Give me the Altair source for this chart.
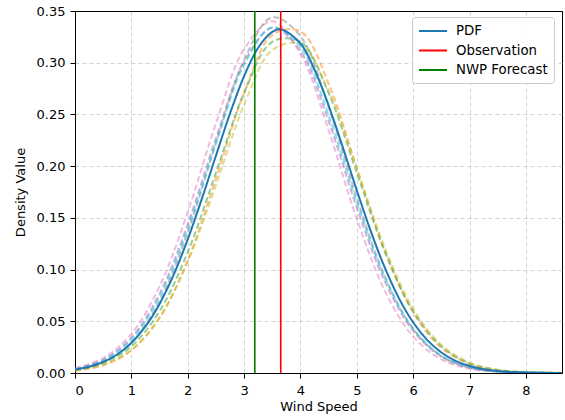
import altair as alt
import pandas as pd

# ---- main PDF curve ----
x_main = [0.0, 0.25, 0.5, 0.75, 1.0, 1.25, 1.5, 1.75, 2.0, 2.25, 2.5, 2.75, 3.0, 3.25, 3.5, 3.65,
          4.0, 4.25, 4.5, 4.75, 5.0, 5.25, 5.5, 5.75, 6.0, 6.25, 6.5, 6.75, 7.0, 7.25, 7.5, 7.75,
          8.0, 8.5, 8.75]
pdf_main = [0.0033, 0.0060, 0.0106, 0.0179, 0.0290, 0.0450, 0.0668, 0.0949, 0.1292, 0.1683, 0.2100,
            0.2509, 0.2870, 0.3145, 0.3298, 0.3324, 0.3186, 0.2933, 0.2586, 0.2184, 0.1765, 0.1367,
            0.1013, 0.0719, 0.0488, 0.0318, 0.0198, 0.0118, 0.0068, 0.0037, 0.0019, 0.0010, 0.0005,
            0.0001, 0.00003]

# ---- ensemble member curves (dashed) ----
x_members = [0.0, 0.5, 1.0, 1.5, 2.0, 2.5, 3.0, 3.5, 4.0, 4.5, 5.0, 5.5, 6.0, 6.5, 7.0, 7.5, 8.0, 8.5, 9.0]
orange_member = [0.0021, 0.0074, 0.0217, 0.0532, 0.1092, 0.1879, 0.2708, 0.3268, 0.3303, 0.2796,
                 0.1982, 0.1177, 0.0585, 0.0244, 0.0085, 0.0025, 0.0006, 0.0001, 0.0]
green_member = [0.0029, 0.0094, 0.0258, 0.0597, 0.1168, 0.1935, 0.2707, 0.3202, 0.3202, 0.2707,
                0.1935, 0.1168, 0.0597, 0.0258, 0.0094, 0.0029, 0.0008, 0.0002, 0.0]
purple_member = [0.0040, 0.0128, 0.0342, 0.0766, 0.1439, 0.2270, 0.3004, 0.3337, 0.3111, 0.2434,
                 0.1599, 0.0881, 0.0407, 0.0158, 0.0052, 0.0014, 0.0003, 0.0001, 0.0]
pink_member = [0.0045, 0.0143, 0.0378, 0.0838, 0.1556, 0.2413, 0.3131, 0.3400, 0.3087, 0.2345,
               0.1490, 0.0792, 0.0352, 0.0131, 0.0041, 0.0011, 0.0002, 0.0000, 0.0]
gray_member = [0.0031, 0.0105, 0.0295, 0.0694, 0.1360, 0.2222, 0.3027, 0.3438, 0.3255, 0.2570,
               0.1692, 0.0928, 0.0425, 0.0162, 0.0052, 0.0014, 0.0003, 0.0000, 0.0]
olive_member = [0.0024, 0.0080, 0.0226, 0.0536, 0.1074, 0.1816, 0.2592, 0.3123, 0.3177, 0.2727,
                0.1976, 0.1209, 0.0624, 0.0272, 0.0100, 0.0031, 0.0008, 0.0002, 0.0]
cyan_member = [0.0037, 0.0120, 0.0324, 0.0734, 0.1395, 0.2225, 0.2977, 0.3342, 0.3149, 0.2489,
               0.1651, 0.0919, 0.0429, 0.0168, 0.0055, 0.0015, 0.0004, 0.0001, 0.0]

# ---- vertical reference lines ----
line_names = ["Observation", "NWP Forecast"]
line_x = [3.65, 3.19]

legend_order = ["PDF", "Observation", "NWP Forecast"]
legend_colors = ["#1f77b4", "#ff0000", "#008000"]

member_colors = {
    "orange": "#ff7f0e", "green": "#2ca02c", "purple": "#9467bd", "pink": "#e377c2",
    "gray": "#7f7f7f", "olive": "#bcbd22", "cyan": "#17becf",
}
members = {
    "orange": orange_member, "green": green_member, "purple": purple_member,
    "pink": pink_member, "gray": gray_member, "olive": olive_member, "cyan": cyan_member,
}

rows = []
for name, vals in members.items():
    for xv, yv in zip(x_members, vals):
        rows.append({"x": xv, "y": yv, "member": name, "col": member_colors[name]})
members_df = pd.DataFrame(rows)
main_df = pd.DataFrame({"x": x_main, "y": pdf_main, "series": "PDF"})
lines_df = pd.DataFrame({"x": line_x, "series": line_names})

FONT = "DejaVu Sans"
xscale = alt.Scale(domain=[0, 8.64], nice=False, zero=False)
yscale = alt.Scale(domain=[0, 0.35], nice=False)
color_scale = alt.Scale(domain=legend_order, range=legend_colors)

xaxis = alt.Axis(title="Wind Speed", values=list(range(9)), format="d",
                 labelPadding=6, titlePadding=3)
yaxis = alt.Axis(
    title="Density Value", values=[0, 0.05, 0.1, 0.15, 0.2, 0.25, 0.3, 0.35], format=".2f",
    labelPadding=5, titlePadding=9,
    gridColor={"condition": {"test": "datum.value >= 0.349", "value": "black"}, "value": "#c8c8c8"},
    gridDash={"condition": {"test": "datum.value >= 0.349", "value": [1, 0]}, "value": [4, 3]},
    gridWidth={"condition": {"test": "datum.value >= 0.349", "value": 1}, "value": 0.8},
)

legend = alt.Legend(
    title=None, orient="none", legendX=337, legendY=6, fillColor="rgba(255,255,255,0.85)",
    strokeColor="#cccccc", cornerRadius=3, padding=6, symbolType="M-2,0H2",
    symbolSize=196, symbolStrokeWidth=2, symbolOffset=7, labelFontSize=13.3, labelFont=FONT,
    labelColor="black", labelOffset=15, rowPadding=4.5,
)

dashed = alt.Chart(members_df).mark_line(
    strokeDash=[6, 3], strokeWidth=2, opacity=0.5, interpolate="catmull-rom", clip=True
).encode(
    x=alt.X("x:Q", scale=xscale, axis=xaxis),
    y=alt.Y("y:Q", scale=yscale, axis=yaxis),
    detail="member:N",
    stroke=alt.Stroke("col:N", scale=None),
)

main = alt.Chart(main_df).mark_line(strokeWidth=2, interpolate="catmull-rom", clip=True).encode(
    x=alt.X("x:Q", scale=xscale),
    y=alt.Y("y:Q", scale=yscale),
    color=alt.Color("series:N", scale=color_scale, legend=legend, sort=legend_order),
)

rules = alt.Chart(lines_df).mark_rule(strokeWidth=1.6).encode(
    x=alt.X("x:Q", scale=xscale),
    color=alt.Color("series:N", scale=color_scale, legend=legend, sort=legend_order),
)

chart = alt.layer(dashed, main, rules).properties(
    width=487, height=362,
    autosize=alt.AutoSizeParams(type="none"),
    padding={"left": 75, "top": 11, "right": 3, "bottom": 47},
).configure_view(
    stroke="black", strokeWidth=1
).configure_axis(
    labelFont=FONT, titleFont=FONT, labelFontSize=13, titleFontSize=13,
    labelColor="black", titleColor="black", titleFontWeight="normal",
    domainColor="black", tickColor="black", tickSize=5,
    grid=True, gridColor="#c8c8c8", gridDash=[4, 3], gridWidth=0.8,
)

chart.save("out.html", embed_options={"renderer": "svg", "actions": False})
